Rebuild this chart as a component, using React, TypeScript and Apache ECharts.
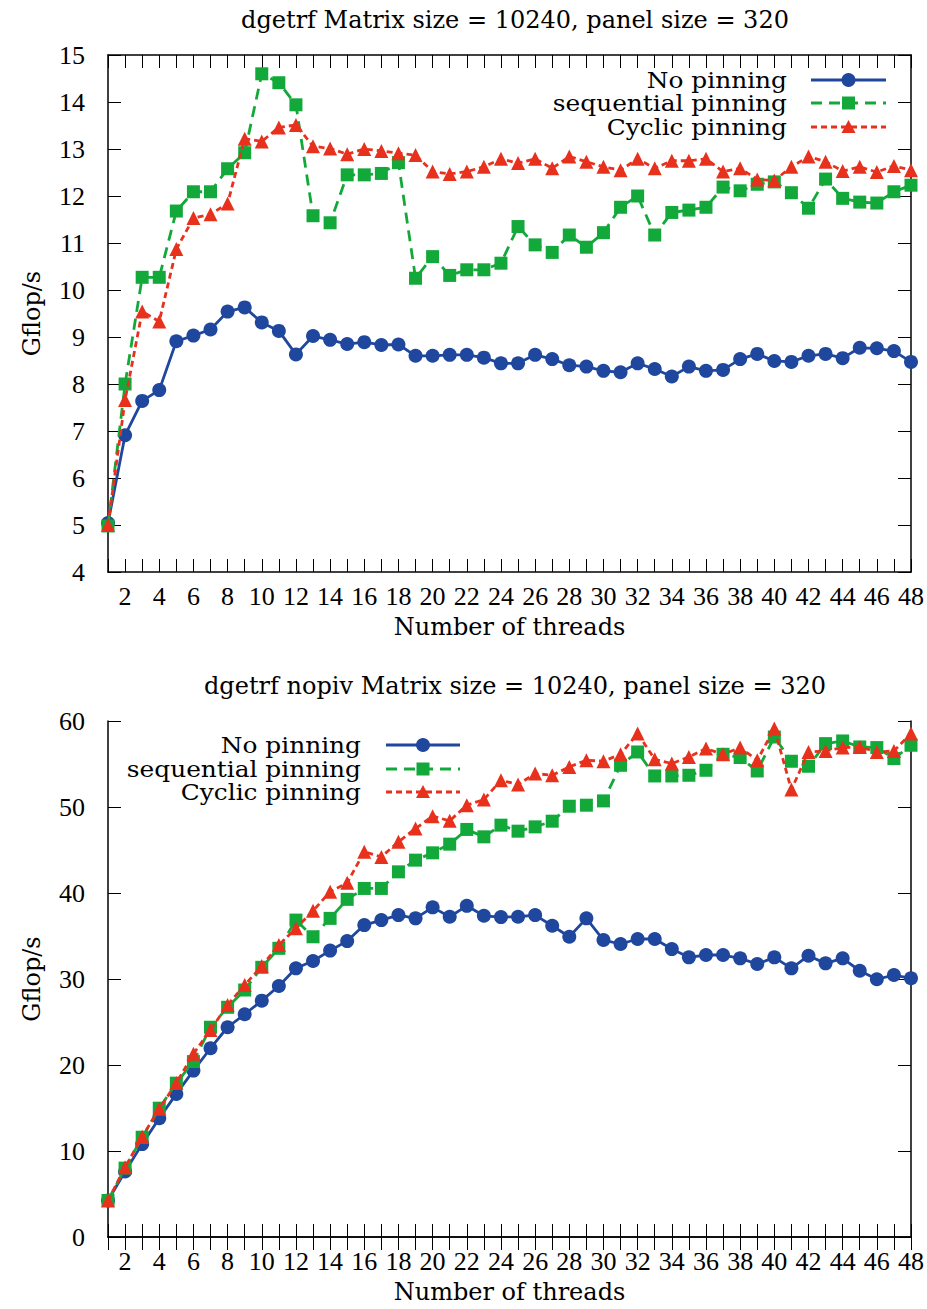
import React, { useEffect, useRef } from "react";
import * as echarts from "echarts";

const threads = Array.from({ length: 48 }, (_, i) => i + 1);

// Chart 1: dgetrf
const top_noPin = [5.04, 6.91, 7.64, 7.87, 8.91, 9.03, 9.16, 9.54, 9.63, 9.31, 9.13, 8.63, 9.02, 8.94, 8.85, 8.89, 8.83, 8.84, 8.6, 8.6, 8.62, 8.62, 8.56, 8.44, 8.44, 8.62, 8.53, 8.4, 8.37, 8.28, 8.25, 8.44, 8.32, 8.16, 8.37, 8.28, 8.3, 8.53, 8.64, 8.49, 8.47, 8.6, 8.64, 8.55, 8.77, 8.76, 8.7, 8.47];
const top_seq = [4.98, 8.0, 10.27, 10.27, 11.68, 12.09, 12.09, 12.58, 12.92, 14.6, 14.41, 13.94, 11.58, 11.43, 12.45, 12.45, 12.48, 12.71, 10.25, 10.71, 10.31, 10.43, 10.43, 10.57, 11.35, 10.96, 10.8, 11.17, 10.91, 11.22, 11.76, 12.0, 11.17, 11.65, 11.7, 11.76, 12.19, 12.11, 12.25, 12.3, 12.07, 11.74, 12.36, 11.95, 11.87, 11.85, 12.09, 12.23];
const top_cyc = [5.0, 7.66, 9.54, 9.33, 10.87, 11.53, 11.61, 11.84, 13.22, 13.16, 13.46, 13.51, 13.06, 13.01, 12.89, 13.0, 12.96, 12.91, 12.87, 12.52, 12.47, 12.52, 12.62, 12.79, 12.7, 12.79, 12.59, 12.84, 12.73, 12.62, 12.55, 12.79, 12.59, 12.75, 12.75, 12.79, 12.52, 12.59, 12.35, 12.33, 12.62, 12.84, 12.73, 12.53, 12.62, 12.51, 12.64, 12.55];

// Chart 2: dgetrf nopiv
const bot_noPin = [4.25, 7.62, 10.8, 13.82, 16.64, 19.35, 21.95, 24.39, 25.9, 27.48, 29.19, 31.24, 32.09, 33.3, 34.41, 36.27, 36.85, 37.43, 37.05, 38.33, 37.24, 38.51, 37.35, 37.2, 37.24, 37.43, 36.19, 34.91, 37.05, 34.53, 34.07, 34.65, 34.65, 33.48, 32.52, 32.79, 32.79, 32.4, 31.74, 32.52, 31.24, 32.71, 31.82, 32.4, 30.96, 29.97, 30.46, 30.08];
const bot_seq = [4.25, 8.01, 11.6, 14.98, 17.89, 20.4, 24.39, 26.71, 28.72, 31.36, 33.57, 36.85, 34.91, 37.05, 39.26, 40.53, 40.53, 42.46, 43.82, 44.67, 45.68, 47.39, 46.53, 47.89, 47.19, 47.69, 48.35, 50.09, 50.21, 50.71, 54.85, 56.4, 53.61, 53.61, 53.69, 54.27, 56.13, 55.75, 54.19, 58.14, 55.32, 54.74, 57.37, 57.68, 56.98, 56.91, 55.63, 57.18];
const bot_cyc = [4.25, 8.1, 11.66, 14.9, 17.9, 21.3, 24.08, 26.98, 29.3, 31.5, 33.95, 35.89, 37.93, 40.14, 41.19, 44.79, 44.2, 45.95, 47.5, 48.93, 48.39, 50.21, 50.87, 53.11, 52.61, 53.89, 53.69, 54.66, 55.44, 55.32, 56.13, 58.54, 55.55, 55.05, 55.82, 56.79, 56.13, 56.91, 55.44, 59.12, 52.03, 56.4, 56.52, 56.91, 56.98, 56.4, 56.52, 58.54];

const seriesNames = ["No pinning", "sequential pinning", "Cyclic pinning"];
const titles = [
  "dgetrf Matrix size = 10240, panel size = 320",
  "dgetrf nopiv Matrix size = 10240, panel size = 320",
];
const xAxisName = "Number of threads";
const yAxisName = "Gflop/s";

const BLUE = "#1f479d";
const GREEN = "#13a93a";
const RED = "#e8311d";
const TICK_FONT = "'Liberation Serif', serif";
const TEXT_FONT = "'DejaVu Serif', serif";

const colors = [BLUE, GREEN, RED];
const dashes: any[] = ["solid", [11, 7], [6, 4]];
const symbols = ["circle", "rect", "triangle"];
const symbolSizes = [14, 13, 14];

export default function App() {
  const ref = useRef<HTMLDivElement>(null);
  useEffect(() => {
    if (!ref.current) return;
    const chart = echarts.init(ref.current, null, { renderer: "svg" });

    const grids = [
      { left: 108, top: 55, width: 803, height: 517 },
      { left: 108, top: 721, width: 803, height: 516 },
    ];
    const yRanges = [
      { min: 4, max: 15, interval: 1 },
      { min: 0, max: 60, interval: 10 },
    ];

    const axisLine = { show: true, lineStyle: { color: "#000", width: 1.5 } };
    const tick = { show: true, inside: true, length: 13, lineStyle: { color: "#000", width: 1 } };

    const xAxes: any[] = [];
    const yAxes: any[] = [];
    [0, 1].forEach((g) => {
      xAxes.push({
        type: "value",
        gridIndex: g,
        position: "bottom",
        min: 1,
        max: 48,
        interval: 1,
        axisLine,
        axisTick: tick,
        splitLine: { show: false },
        axisLabel: {
          color: "#000",
          fontFamily: TICK_FONT,
          fontSize: 26,
          margin: 11,
          formatter: (v: number) => (v % 2 === 0 ? String(v) : ""),
        },
        name: xAxisName,
        nameLocation: "middle",
        nameGap: 43,
        nameTextStyle: { color: "#000", fontFamily: TEXT_FONT, fontSize: 24 },
      });
      xAxes.push({
        type: "value",
        gridIndex: g,
        position: "top",
        min: 1,
        max: 48,
        interval: 1,
        axisLine,
        axisTick: tick,
        splitLine: { show: false },
        axisLabel: { show: false },
      });
      yAxes.push({
        type: "value",
        gridIndex: g,
        position: "left",
        ...yRanges[g],
        axisLine,
        axisTick: tick,
        splitLine: { show: false },
        axisLabel: { color: "#000", fontFamily: TICK_FONT, fontSize: 26, margin: 23 },
        name: yAxisName,
        nameLocation: "middle",
        nameGap: 64,
        nameTextStyle: { color: "#000", fontFamily: TEXT_FONT, fontSize: 24 },
      });
      yAxes.push({
        type: "value",
        gridIndex: g,
        position: "right",
        ...yRanges[g],
        axisLine,
        axisTick: tick,
        splitLine: { show: false },
        axisLabel: { show: false },
      });
    });

    const dataSets = [
      [top_noPin, top_seq, top_cyc],
      [bot_noPin, bot_seq, bot_cyc],
    ];
    const series: any[] = [];
    dataSets.forEach((set, g) => {
      set.forEach((vals, k) => {
        series.push({
          type: "line",
          name: seriesNames[k],
          xAxisIndex: g * 2,
          yAxisIndex: g * 2,
          data: threads.map((t, i) => [t, vals[i]]),
          symbol: symbols[k],
          symbolSize: symbolSizes[k],
          showSymbol: true,
          itemStyle: { color: colors[k] },
          lineStyle: { color: colors[k], width: 2.8, type: dashes[k] },
          z: 2 + k,
        });
      });
    });

    // legends drawn as graphics (text right-aligned, sample line + marker on the right)
    const legendPos = [
      { textRight: 787, x1: 811, x2: 886, ys: [80, 103, 127] },
      { textRight: 361, x1: 386, x2: 460, ys: [745, 769, 792] },
    ];
    const graphics: any[] = [];
    legendPos.forEach((lp) => {
      seriesNames.forEach((name, k) => {
        const y = lp.ys[k];
        graphics.push({
          type: "text",
          x: lp.textRight,
          y,
          scaleX: 1.08,
          scaleY: 1.0,
          style: {
            text: name,
            fill: "#000",
            fontFamily: TEXT_FONT,
            fontSize: 23,
            lineHeight: 21,
            textAlign: "right",
            textVerticalAlign: "middle",
          },
        });
        graphics.push({
          type: "line",
          shape: { x1: lp.x1, y1: y, x2: lp.x2, y2: y },
          style: { stroke: colors[k], lineWidth: 2.8, lineDash: k === 0 ? null : dashes[k] },
        });
        const cx = (lp.x1 + lp.x2) / 2;
        if (k === 0) {
          graphics.push({ type: "circle", shape: { cx, cy: y, r: 7 }, style: { fill: colors[k] } });
        } else if (k === 1) {
          graphics.push({ type: "rect", shape: { x: cx - 6.5, y: y - 6.5, width: 13, height: 13 }, style: { fill: colors[k] } });
        } else {
          graphics.push({
            type: "polygon",
            shape: { points: [[cx, y - 7], [cx + 7, y + 6], [cx - 7, y + 6]] },
            style: { fill: colors[k] },
          });
        }
      });
    });

    chart.setOption({
      animation: false,
      backgroundColor: "#fff",
      title: titles.map((t, i) => ({
        text: t,
        left: 510,
        top: i === 0 ? 3 : 669,
        textAlign: "center",
        textStyle: { color: "#000", fontFamily: TEXT_FONT, fontSize: 24, fontWeight: "normal" },
      })),
      grid: grids,
      xAxis: xAxes,
      yAxis: yAxes,
      series,
      graphic: graphics,
    });

    return () => chart.dispose();
  }, []);

  return (
    <div
      ref={ref}
      style={{ position: "absolute", left: 0, top: 0, width: 927, height: 1309, background: "#fff" }}
    />
  );
}
